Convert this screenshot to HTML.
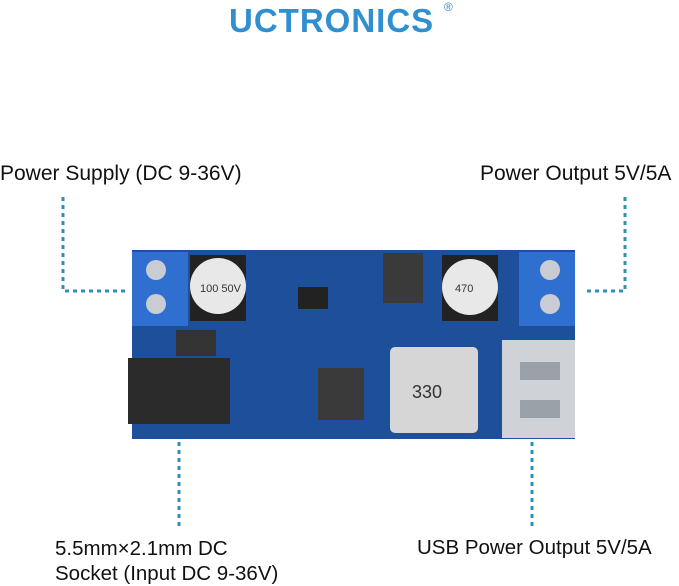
<!DOCTYPE html><html><head><style>
body{margin:0;width:679px;height:585px;background:#fff;position:relative;overflow:hidden;font-family:"Liberation Sans",sans-serif;color:#111}
.t{position:absolute;font-size:21px;white-space:nowrap}
.a{position:absolute}
</style></head><body>
<div class="a" style="left:229px;top:2px;font-size:33px;font-weight:bold;color:#2f8fd0;letter-spacing:1px;font-family:'Liberation Sans',sans-serif">UCTRONICS</div>
<div class="a" style="left:444px;top:0px;font-size:12px;color:#2f8fd0">®</div>
<div class="t" style="left:0;top:162px">Power Supply (DC 9-36V)</div>
<div class="t" style="left:480px;top:162px">Power Output 5V/5A</div>
<div class="t" style="left:55px;top:536px;line-height:25px;font-size:20.5px">5.5mm×2.1mm DC<br>Socket (Input DC 9-36V)</div>
<div class="t" style="left:417px;top:536px;font-size:20.5px">USB Power Output 5V/5A</div>
<svg class="a" style="left:0;top:0" width="679" height="585">
<g stroke="#2f8fb5" stroke-width="3" stroke-dasharray="4,4" fill="none">
<path d="M63 197V291H127"/><path d="M625 197V291H585"/>
<path d="M179 410V530"/><path d="M532 410V530"/>
</g>
<rect x="132" y="250" width="443" height="189" fill="#1d4f9a"/>
<rect x="132" y="252" width="56" height="74" fill="#2e6fd0"/>
<circle cx="156" cy="270" r="10" fill="#c9ccd2"/><circle cx="156" cy="304" r="10" fill="#c9ccd2"/>
<rect x="519" y="252" width="56" height="74" fill="#2e6fd0"/>
<circle cx="550" cy="270" r="10" fill="#c9ccd2"/><circle cx="550" cy="304" r="10" fill="#c9ccd2"/>
<rect x="190" y="255" width="56" height="66" fill="#222"/>
<circle cx="218" cy="286" r="28" fill="#e8e8e8"/>
<text x="200" y="292" font-size="11" fill="#333" font-family="Liberation Sans">100 50V</text>
<rect x="442" y="255" width="56" height="66" fill="#222"/>
<circle cx="470" cy="287" r="28" fill="#e8e8e8"/>
<text x="455" y="292" font-size="11" fill="#333" font-family="Liberation Sans">470</text>
<rect x="128" y="358" width="102" height="66" fill="#2b2b2b"/>
<rect x="176" y="330" width="40" height="26" fill="#333"/>
<rect x="383" y="253" width="40" height="50" fill="#3a3a3a"/>
<rect x="318" y="368" width="46" height="52" fill="#3a3a3a"/>
<rect x="298" y="287" width="30" height="22" fill="#222"/>
<rect x="390" y="347" width="88" height="86" rx="5" fill="#d6d6d6"/>
<text x="412" y="398" font-size="18" fill="#333" font-family="Liberation Sans">330</text>
<rect x="502" y="340" width="73" height="98" fill="#cfd2d6"/>
<rect x="520" y="362" width="40" height="18" fill="#9aa0a8"/><rect x="520" y="400" width="40" height="18" fill="#9aa0a8"/>
</svg>
</body></html>
